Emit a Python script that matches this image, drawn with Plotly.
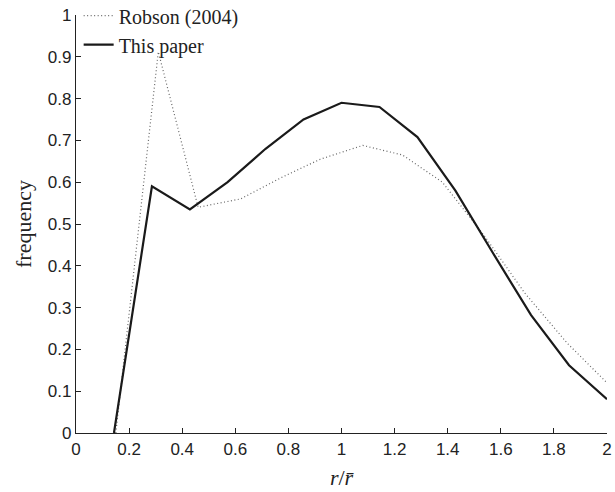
import plotly.graph_objects as go

# This paper
x_paper = [0.143, 0.286, 0.429, 0.571, 0.714, 0.857, 1.0, 1.143, 1.286, 1.429, 1.571, 1.714, 1.857, 2.0]
y_paper = [0.0, 0.59, 0.535, 0.60, 0.68, 0.75, 0.79, 0.78, 0.708, 0.58, 0.43, 0.282, 0.162, 0.081]

# Robson (2004)
x_robson = [0.15, 0.31, 0.46, 0.62, 0.77, 0.92, 1.08, 1.23, 1.38, 1.54, 1.69, 1.85, 2.0]
y_robson = [0.0, 0.912, 0.54, 0.56, 0.61, 0.655, 0.688, 0.665, 0.60, 0.47, 0.335, 0.215, 0.12]

x_ticks = [0, 0.2, 0.4, 0.6, 0.8, 1, 1.2, 1.4, 1.6, 1.8, 2]
y_ticks = [0, 0.1, 0.2, 0.3, 0.4, 0.5, 0.6, 0.7, 0.8, 0.9, 1]

fig = go.Figure()
fig.add_trace(go.Scatter(x=x_robson, y=y_robson, mode="lines", name="Robson (2004)",
                         line=dict(color="#666666", width=1.2, dash="1px,2.5px")))
fig.add_trace(go.Scatter(x=x_paper, y=y_paper, mode="lines", name="This paper",
                         line=dict(color="#1a1a1a", width=2.2)))

serif = "Liberation Serif, DejaVu Serif, serif"
tick_font = dict(family="Liberation Sans, Arial, sans-serif", size=17, color="#222222")
fig.update_layout(
    width=615, height=492,
    margin=dict(l=76, r=8, t=15, b=59, autoexpand=False),
    paper_bgcolor="white", plot_bgcolor="white",
    showlegend=True,
    legend=dict(x=0.005, y=1.045, xanchor="left", yanchor="top",
                bgcolor="rgba(0,0,0,0)", borderwidth=0,
                font=dict(family=serif, size=20, color="#222222"),
                itemwidth=30, tracegroupgap=0),
    xaxis=dict(range=[0, 2], tickvals=x_ticks, ticktext=[f"{v:g}" for v in x_ticks],
               showgrid=False, zeroline=False, showline=True, linecolor="#222222", linewidth=1.2,
               ticks="inside", ticklen=5, tickcolor="#222222", tickfont=tick_font,
               title=dict(text="<i>r</i>/<i>r\u0304</i>", standoff=12,
                          font=dict(family=serif, size=22, color="#222222"))),
    yaxis=dict(range=[0, 1], tickvals=y_ticks, ticktext=[f"{v:g}" for v in y_ticks],
               showgrid=False, zeroline=False, showline=True, linecolor="#222222", linewidth=1.2,
               ticks="inside", ticklen=5, tickcolor="#222222", tickfont=tick_font,
               title=dict(text="frequency", standoff=10,
                          font=dict(family=serif, size=22, color="#222222"))),
)
fig.write_html("out.html")
